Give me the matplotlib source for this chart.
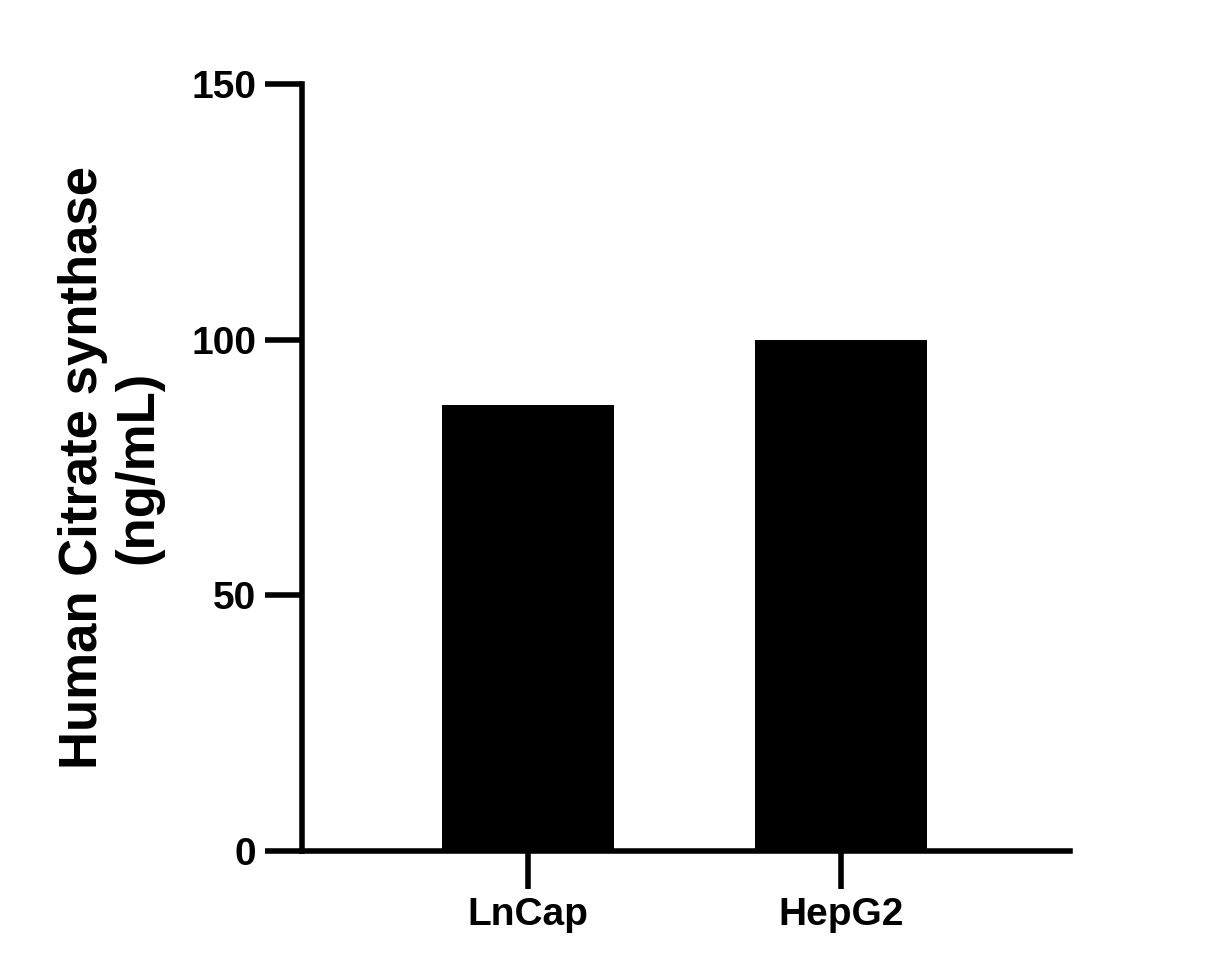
import matplotlib
matplotlib.use("Agg")
import matplotlib.pyplot as plt

categories = ["LnCap", "HepG2"]
values = [87.2, 100.0]
yticks = [0, 50, 100, 150]

plt.rcParams['font.family'] = ['Liberation Sans', 'DejaVu Sans']
plt.rcParams['font.weight'] = 'bold'

fig = plt.figure(figsize=(12.07, 9.67), dpi=100)
ax = fig.add_axes([302/1207, 1-851/967, 768/1207, 767/967])

ax.bar(range(len(categories)), values, width=0.55, color='black')
ax.set_xlim(-0.722, 1.732)
ax.set_ylim(0, 150)
ax.set_yticks(yticks)
ax.set_xticks(range(len(categories)))
ax.set_xticklabels(categories)

for s in ['top', 'right']:
    ax.spines[s].set_visible(False)
for s in ['left', 'bottom']:
    ax.spines[s].set_linewidth(4)
ax.tick_params(axis='both', length=27, width=4, labelsize=28, pad=6)
for lab in ax.get_xticklabels() + ax.get_yticklabels():
    lab.set_fontweight('bold')

ax.set_ylabel("Human Citrate synthase\n(ng/mL)", fontsize=38, fontweight='bold',
              labelpad=20, linespacing=1.15)

fig.savefig("out.png", dpi=100)
